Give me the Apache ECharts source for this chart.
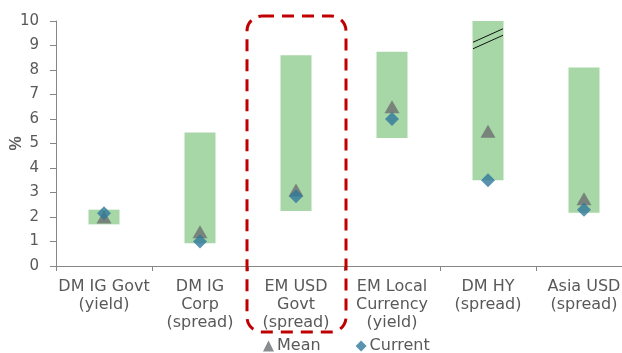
<!DOCTYPE html>
<html>
<head>
<meta charset="utf-8">
<script src="https://cdn.jsdelivr.net/npm/echarts@6/dist/echarts.min.js"></script>
<style>
  html, body { margin: 0; padding: 0; background: #fff; }
  #main { width: 622px; height: 353px; }
</style>
</head>
<body>
<div id="main"></div>
<script>
var categories = ['DM IG Govt\n(yield)', 'DM IG\nCorp\n(spread)', 'EM USD\nGovt\n(spread)', 'EM Local\nCurrency\n(yield)', 'DM HY\n(spread)', 'Asia USD\n(spread)'];
var rangeLow = [1.7, 0.93, 2.24, 5.22, 3.5, 2.17];
var rangeHigh = [2.3, 5.45, 8.6, 8.75, 10, 8.1];
var meanValues = [2.0, 1.4, 3.1, 6.5, 5.5, 2.75];
var currentValues = [2.15, 1.0, 2.85, 6.0, 3.5, 2.3];

var rangeSpan = rangeHigh.map(function (h, i) { return +(h - rangeLow[i]).toFixed(2); });

var myChart = echarts.init(document.getElementById('main'));
var txt = '#595959';
var font = 'DejaVu Sans';
var option = {
    animation: false,
    grid: { left: 56, right: -10, top: 21, bottom: 87, outerBoundsMode: 'none', containLabel: false },
    legend: {
        data: [
            { name: 'Mean', icon: 'triangle', itemStyle: { color: '#6d6e71' } },
            { name: 'Current', icon: 'diamond', itemStyle: { color: '#31789c' } }
        ],
        top: 333,
        left: 258,
        itemWidth: 11,
        itemHeight: 11,
        itemGap: 35,
        textStyle: { color: txt, fontSize: 16, fontFamily: font, padding: [0, 0, 0, -2] }
    },
    xAxis: {
        type: 'category',
        data: categories,
        axisLine: { lineStyle: { color: '#868686' } },
        axisTick: { show: true, length: 5, lineStyle: { color: '#868686' } },
        axisLabel: { color: txt, fontSize: 16, fontFamily: font, lineHeight: 18, margin: 12, interval: 0 }
    },
    yAxis: {
        type: 'value',
        min: 0,
        max: 10,
        interval: 1,
        name: '%',
        nameLocation: 'middle',
        nameGap: 31,
        nameRotate: 90,
        nameMoveOverlap: false,
        nameTextStyle: { color: txt, fontSize: 16, fontWeight: 'bold', fontFamily: 'Liberation Sans' },
        axisLine: { show: true, lineStyle: { color: '#868686' } },
        axisTick: { show: true, length: 6, lineStyle: { color: '#868686' } },
        splitLine: { show: false },
        axisLabel: { color: txt, fontSize: 15, fontFamily: font, margin: 17 }
    },
    series: [
        {
            name: 'base',
            type: 'bar',
            stack: 'range',
            barWidth: 31,
            itemStyle: { color: 'transparent' },
            data: rangeLow
        },
        {
            name: 'Range',
            type: 'bar',
            stack: 'range',
            barWidth: 31,
            itemStyle: { color: '#a7d7a6' },
            data: rangeSpan
        },
        {
            name: 'Mean',
            type: 'scatter',
            symbol: 'triangle',
            symbolSize: [15, 13],
            itemStyle: { color: '#6d6e71' },
            data: meanValues,
            z: 3
        },
        {
            name: 'Current',
            type: 'scatter',
            symbol: 'diamond',
            symbolSize: [14, 14],
            itemStyle: { color: '#31789c' },
            data: currentValues,
            z: 4
        }
    ]
};
myChart.setOption(option);

// highlight box around EM USD Govt and break mark on DM HY
var c1 = myChart.convertToPixel({ gridIndex: 0 }, [1, 0]);
var c2 = myChart.convertToPixel({ gridIndex: 0 }, [2, 0]);
var band = c2[0] - c1[0];
var hy = myChart.convertToPixel({ gridIndex: 0 }, [4, 9.5]);
myChart.setOption({
    graphic: [
        {
            type: 'rect',
            shape: { x: c2[0] - band / 2 - 1, y: 16, width: band + 3, height: 316, r: 15 },
            style: { fill: 'none', stroke: '#c00000', lineWidth: 3, lineDash: [12, 8] },
            z: 10
        },
        {
            type: 'line',
            shape: { x1: hy[0] - 15, y1: hy[1] + 9, x2: hy[0] + 15, y2: hy[1] - 4.5 },
            style: { stroke: '#111', lineWidth: 1 },
            z: 10
        },
        {
            type: 'line',
            shape: { x1: hy[0] - 15, y1: hy[1] + 15.5, x2: hy[0] + 15, y2: hy[1] + 2 },
            style: { stroke: '#111', lineWidth: 1 },
            z: 10
        }
    ]
});
</script>
</body>
</html>
